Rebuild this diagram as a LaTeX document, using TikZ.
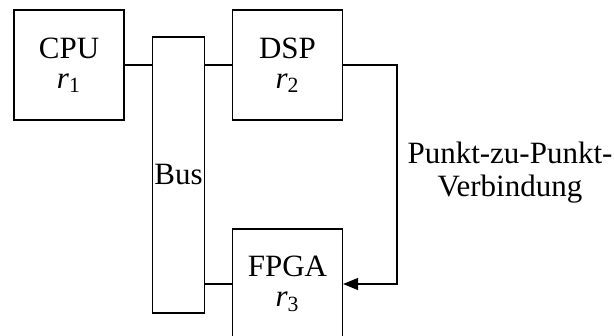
\documentclass[tikz,border=0pt]{standalone}
\usepackage{fontspec}
\setmainfont{Liberation Serif}
\usepackage{tikz}
\usetikzlibrary{positioning,arrows.meta,calc}

\tikzset{
  unitbox/.style={draw, line width=0.6pt, minimum width=55pt, minimum height=55pt,
    inner sep=0pt, align=center, font=\fontsize{15.5}{15}\selectfont},
  busbox/.style={draw, line width=0.6pt, minimum width=25.5pt, minimum height=138pt,
    inner sep=0pt},
  link/.style={line width=0.6pt}
}

\begin{document}
\begin{tikzpicture}[x=0.5pt, y=-0.5pt, font=\fontsize{15.5}{16.5}\selectfont]
\useasboundingbox (0,0) rectangle (614,336);
% processing units
\node[unitbox] (cpu) at (69,65) {CPU\\[0pt]\textit{r}\textsubscript{1}};
\node[unitbox] (dsp) at (287.5,65) {DSP\\[0pt]\textit{r}\textsubscript{2}};
\node[unitbox] (fpga) at (287.5,284) {FPGA\\[0pt]\textit{r}\textsubscript{3}};
% shared bus
\node[busbox, inner sep=1pt] (bus) at (178.5,175) {Bus};
% bus links
\draw[link] (cpu.east) -- (cpu.east -| bus.west);
\draw[link] (dsp.west) -- (dsp.west -| bus.east);
\draw[link] (fpga.west) -- (fpga.west -| bus.east);
% point-to-point link
\coordinate (turn) at (397,65);
\draw[link, -{Triangle[length=7.5pt, width=6pt]}] (dsp.east) -- (turn) |- (fpga.east);
\node[align=center] (p2p) at (510,173) {Punkt-zu-Punkt-\\Verbindung};
\end{tikzpicture}
\end{document}
